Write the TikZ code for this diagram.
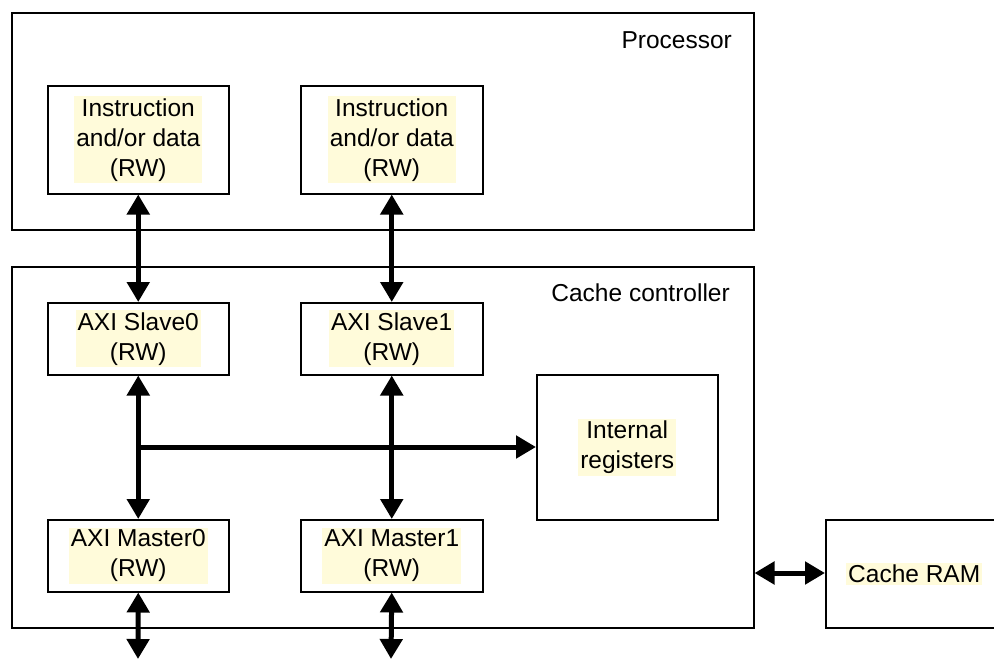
\documentclass[tikz,border=0pt]{standalone}
\usepackage{fontspec}
\setmainfont{Liberation Sans}
\usetikzlibrary{arrows.meta}
\definecolor{hl}{RGB}{255,251,218}
\tikzset{
  box/.style={draw=black, line width=1.5pt, fill=white, inner sep=0pt},
  hltext/.style={fill=hl, inner xsep=2pt, inner ysep=2pt, align=center, font=\fontsize{24.5}{30}\selectfont},
  lbl/.style={font=\fontsize{24.5}{30}\selectfont, inner sep=0pt},
  bus/.style={line width=5pt, -{Triangle[length=20pt,width=22pt]}},
  bbus/.style={line width=5pt, {Triangle[length=20pt,width=22pt]}-{Triangle[length=20pt,width=22pt]}},
}
\begin{document}
\begin{tikzpicture}[x=1pt,y=-1pt]
\useasboundingbox (0,0) rectangle (994,659);
\clip (0,0) rectangle (994,659);
% containers
\node[box, minimum width=742, minimum height=217, anchor=north west] (proc) at (11,12) {};
\node[lbl, anchor=east] (proclbl) at (732,40) {Processor};
\node[box, minimum width=742, minimum height=361, anchor=north west] (cc) at (11,266) {};
\node[lbl, anchor=east] (cclbl) at (730,293) {Cache controller};
% processor blocks
\node[box, minimum width=181, minimum height=108, anchor=north west] (i0) at (47,85) {};
\node[hltext] at (i0) {Instruction\\and/or data\\(RW)};
\node[box, minimum width=182, minimum height=108, anchor=north west] (i1) at (300,85) {};
\node[hltext] at (i1) {Instruction\\and/or data\\(RW)};
% slaves
\node[box, minimum width=181, minimum height=72, anchor=north west] (s0) at (47,302) {};
\node[hltext] at (s0) {AXI Slave0\\(RW)};
\node[box, minimum width=182, minimum height=72, anchor=north west] (s1) at (300,302) {};
\node[hltext] at (s1) {AXI Slave1\\(RW)};
% masters
\node[box, minimum width=181, minimum height=72, anchor=north west] (m0) at (47,519) {};
\node[hltext] at (m0) {AXI Master0\\(RW)};
\node[box, minimum width=182, minimum height=72, anchor=north west] (m1) at (300,519) {};
\node[hltext] at (m1) {AXI Master1\\(RW)};
% internal registers
\node[box, minimum width=181, minimum height=145, anchor=north west] (ir) at (536,374) {};
\node[hltext] at (ir) {Internal\\registers};
% cache RAM
\node[box, minimum width=200, minimum height=108, anchor=north west] (ram) at (825,519) {};
\node[hltext, anchor=west] at (ram.west -| 846,0) {Cache RAM};
% free ends
\coordinate (b0) at (138,659);
\coordinate (b1) at (391,659);
\coordinate (j0) at (138,447);
% connectors
\draw[bbus] (i0.south) -- (s0.north);
\draw[bbus] (i1.south) -- (s1.north);
\draw[bbus] (s0.south) -- (m0.north);
\draw[bbus] (s1.south) -- (m1.north);
\draw[bus] (j0) -- (j0 -| ir.west);
\draw[bbus] (m0.south) -- (b0);
\draw[bbus] (m1.south) -- (b1);
\draw[bbus] (cc.east |- 0,573) -- (ram.west |- 0,573);
\end{tikzpicture}
\end{document}
